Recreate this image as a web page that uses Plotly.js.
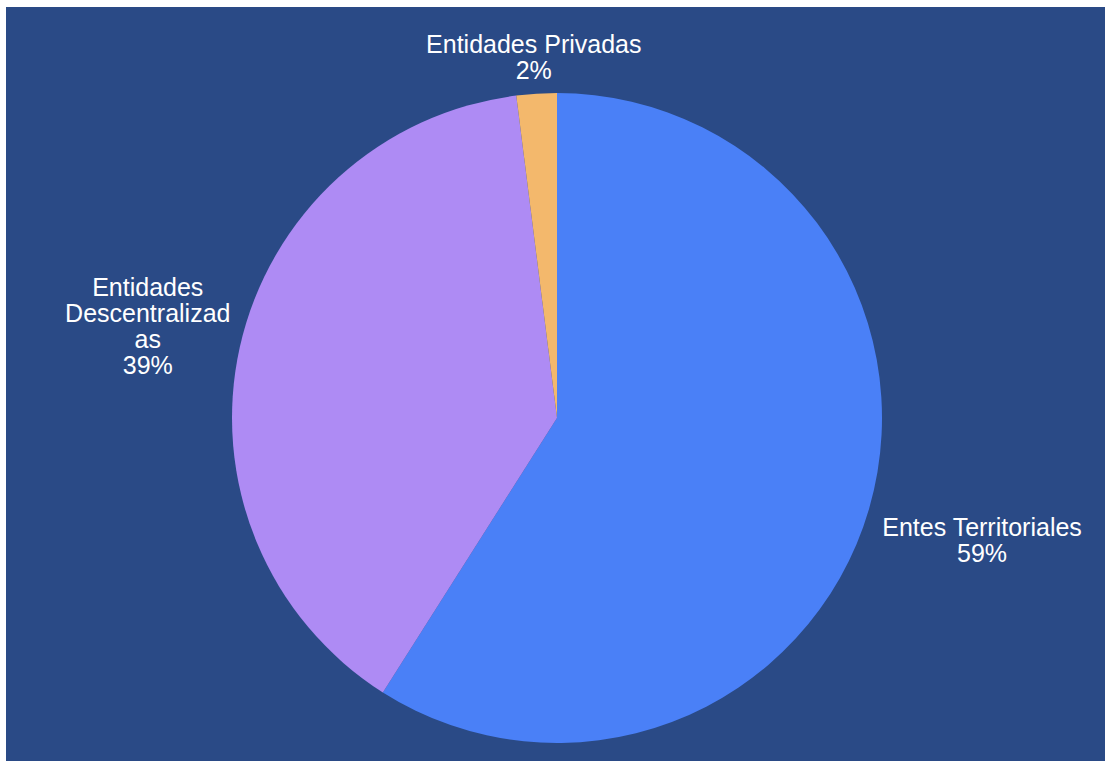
<!DOCTYPE html>
<html>
<head>
<meta charset="utf-8">
<script src="https://cdn.plot.ly/plotly-3.0.1.min.js"></script>
<style>
  html, body { margin: 0; padding: 0; background: #ffffff; }
  #chart { position: absolute; left: 6px; top: 7px; width: 1099px; height: 754px; }
</style>
</head>
<body>
<div id="chart"></div>
<script>
const categories = ['Entes Territoriales', 'Entidades Descentralizadas', 'Entidades Privadas'];
const displayLabels = ['Entes Territoriales', 'Entidades<br>Descentralizad<br>as', 'Entidades Privadas'];
const values = [59, 39, 2];
const colors = ['#4A80F7', '#AE8BF4', '#F3B86C'];

const trace = {
  type: 'pie',
  labels: categories,
  values: values,
  text: displayLabels,
  textinfo: 'text+percent',
  textposition: 'outside',
  sort: false,
  direction: 'clockwise',
  rotation: 0,
  marker: { colors: colors, line: { width: 0 } },
  outsidetextfont: { color: '#ffffff', size: 25, family: 'Liberation Sans, Arial, sans-serif' },
  hoverinfo: 'label+percent',
  showlegend: false
};

const layout = {
  width: 1099,
  height: 754,
  paper_bgcolor: '#2A4A86',
  plot_bgcolor: '#2A4A86',
  margin: { l: 3, r: 0, t: 86, b: 18 },
  font: { family: 'Liberation Sans, Arial, sans-serif', color: '#ffffff', size: 25 },
  showlegend: false
};

// label nudges (pixels) per slice, to match the reference label placement
const labelShift = [[-2, 29], [22, -18], [120, -7]];

Plotly.newPlot('chart', [trace], layout, { displayModeBar: false, staticPlot: true }).then(function (gd) {
  gd.querySelectorAll('g.slice').forEach(function (g, k) {
    const t = g.querySelector('g.slicetext text');
    if (!t) return;
    const before = t.getBBox();
    const lines = t.querySelectorAll('tspan.line');
    lines.forEach(function (ts, i) { ts.setAttribute('dy', (i * 1.04) + 'em'); });
    const after = t.getBBox();
    const dy = (before.y + before.height / 2) - (after.y + after.height / 2);
    const s = labelShift[k] || [0, 0];
    const tr = t.getAttribute('transform') || '';
    t.setAttribute('transform', 'translate(' + s[0] + ',' + (dy + s[1]) + ') ' + tr);
  });
});
</script>
</body>
</html>
